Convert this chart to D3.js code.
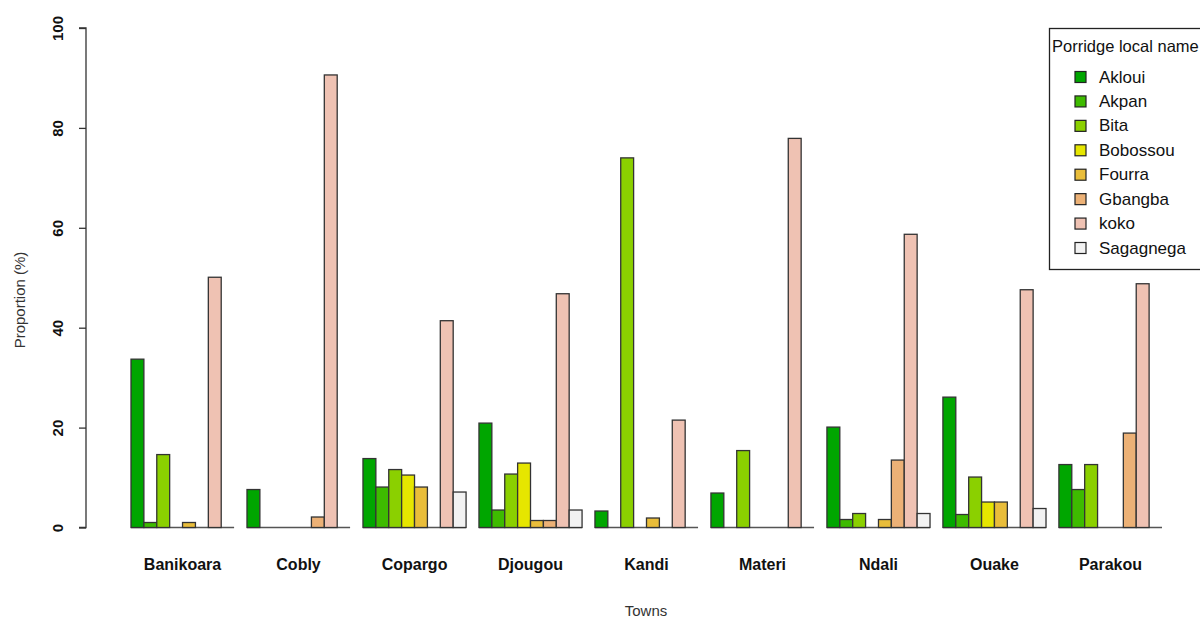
<!DOCTYPE html>
<html><head><meta charset="utf-8">
<script src="https://cdn.jsdelivr.net/npm/d3@7"></script>
<style>body{margin:0;background:#fff}svg{display:block}text{font-family:"Liberation Sans",Arial,sans-serif}</style>
</head><body>
<svg id="c" width="1200" height="623"></svg>
<script>
const towns = ["Banikoara","Cobly","Copargo","Djougou","Kandi","Materi","Ndali","Ouake","Parakou"];
const names = ["Akloui","Akpan","Bita","Bobossou","Fourra","Gbangba","koko","Sagagnega"];
const colors = ["#00A600","#3EBB00","#8BD000","#E6E600","#E9BD3A","#ECB176","#EFC2B3","#F2F2F2"];
// values per porridge (series), across towns in order
const akloui    = [33.7, 7.6, 13.8, 20.9, 3.3, 6.9, 20.1, 26.1, 12.6];
const akpan     = [1.0, 0, 8.1, 3.5, 0, 0, 1.6, 2.6, 7.6];
const bita      = [14.6, 0, 11.6, 10.7, 74.0, 15.4, 2.8, 10.1, 12.6];
const bobossou  = [0, 0, 10.5, 12.9, 0, 0, 0, 5.1, 0];
const fourra    = [1.0, 0, 8.1, 1.4, 1.9, 0, 1.6, 5.1, 0];
const gbangba   = [0, 2.1, 0, 1.4, 0, 0, 13.5, 0, 18.9];
const koko      = [50.1, 90.6, 41.4, 46.8, 21.5, 77.9, 58.7, 47.6, 48.8];
const sagagnega = [0, 0, 7.1, 3.5, 0, 0, 2.8, 3.8, 0];
const yTicks = [0, 20, 40, 60, 80, 100];

const series = [akloui, akpan, bita, bobossou, fourra, gbangba, koko, sagagnega];
const svg = d3.select("#c");

const x0 = d3.scaleBand().domain(towns).range([131, 1162]).paddingInner(1/9).paddingOuter(0);
const x1 = d3.scaleBand().domain(names).range([0, x0.bandwidth()]).padding(0);
const y = d3.scaleLinear().domain([0, 100]).range([527.5, 28]);

const data = [];
towns.forEach((t, i) => names.forEach((n, j) => data.push({town: t, name: n, v: series[j][i], c: colors[j]})));

// zero-height bars render as flat lines along the baseline of each group
svg.append("g").selectAll("line").data(towns).enter().append("line")
  .attr("x1", d => x0(d)).attr("x2", d => x0(d) + x0.bandwidth())
  .attr("y1", y(0)).attr("y2", y(0))
  .attr("stroke", "#555").attr("stroke-width", 1.4);

svg.append("g").selectAll("rect").data(data.filter(d => d.v > 0)).enter().append("rect")
  .attr("x", d => x0(d.town) + x1(d.name))
  .attr("y", d => y(d.v))
  .attr("width", x1.bandwidth())
  .attr("height", d => y(0) - y(d.v))
  .attr("fill", d => d.c)
  .attr("stroke", "#333")
  .attr("stroke-width", 1.3);

// y axis
const ya = svg.append("g").attr("transform", "translate(86,0)")
  .call(d3.axisLeft(y).tickValues(yTicks).tickSize(7).tickFormat(d3.format("d")));
ya.select(".domain").attr("stroke", "#333").attr("stroke-width", 1.3).attr("d", `M-7,${y(0)}H0V${y(100)}H-7`);
ya.selectAll(".tick line").attr("stroke", "#333").attr("stroke-width", 1.3);
ya.selectAll(".tick text").attr("x", null).attr("dy", null)
  .attr("transform", "translate(-29,0) rotate(-90)")
  .attr("text-anchor", "middle").attr("dominant-baseline", "central")
  .style("font-size", "15px").style("font-weight", "bold").attr("fill", "#111");

// x labels
svg.append("g").selectAll("text").data(towns).enter().append("text")
  .attr("x", d => x0(d) + x0.bandwidth() / 2)
  .attr("y", 570)
  .attr("text-anchor", "middle")
  .style("font-size", "16px").style("font-weight", "bold").attr("fill", "#111")
  .text(d => d);

svg.append("text").attr("x", 646).attr("y", 616).attr("text-anchor", "middle")
  .style("font-size", "15px").attr("fill", "#333").text("Towns");
svg.append("text").attr("transform", "translate(25,300) rotate(-90)").attr("text-anchor", "middle")
  .style("font-size", "15px").attr("fill", "#333").text("Proportion (%)");

// legend
const lg = svg.append("g");
lg.append("rect").attr("x", 1049.5).attr("y", 28.5).attr("width", 170).attr("height", 241)
  .attr("fill", "#fff").attr("stroke", "#222").attr("stroke-width", 1.3);
lg.append("text").attr("x", 1052).attr("y", 52).style("font-size", "16.5px").attr("fill", "#111").text("Porridge local name");
const ly = d3.scalePoint().domain(names).range([77, 248]);
names.forEach((n, j) => {
  lg.append("rect").attr("x", 1075).attr("y", ly(n) - 5.5).attr("width", 11).attr("height", 11)
    .attr("fill", colors[j]).attr("stroke", "#222").attr("stroke-width", 1.2);
  lg.append("text").attr("x", 1099).attr("y", ly(n)).attr("dominant-baseline", "central")
    .style("font-size", "17px").attr("fill", "#111").text(n);
});
</script>
</body></html>
